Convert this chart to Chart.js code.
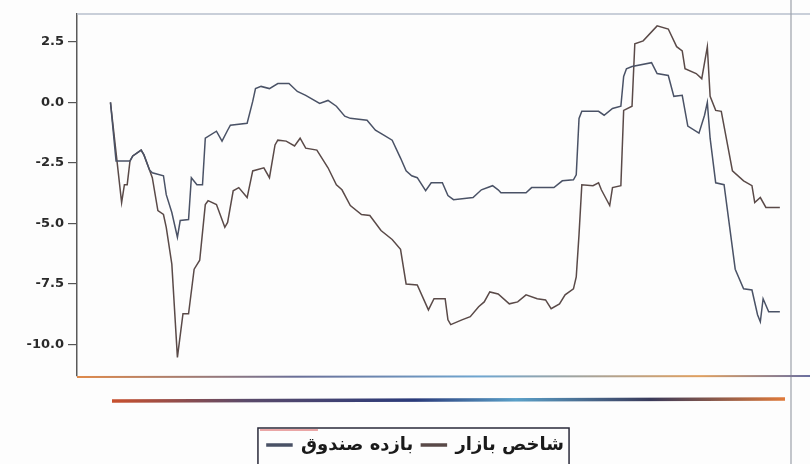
<!DOCTYPE html>
<html>
<head>
<meta charset="utf-8">
<script src="https://cdn.jsdelivr.net/npm/chart.js@4.4.1/dist/chart.umd.min.js"></script>
<style>
html,body{margin:0;padding:0;background:#fdfdfd;}
#wrap{width:810px;height:464px;position:relative;}
</style>
</head>
<body>
<div id="wrap"><canvas id="chart"></canvas></div>
<script>
// series labels (legend order, left to right)
const SERIES_NAMES=["بازده صندوق","شاخص بازار"];
const Y_TICKS=[-10,-7.5,-5,-2.5,0,2.5];

// fund return (%), by trading day
const fundDays=[0,2,7,8,11,12,14,15,19,20,22,24,25,28,29,31,33,34,38,40,42,43,49,51,52,54,57,60,64,67,70,75,78,81,84,86,92,95,98,101,104,106,108,110,113,115,119,121,123,130,133,137,139,140,149,151,159,162,166,167,168,169,175,177,180,183,184,185,187,194,196,200,202,205,207,211,213,214,215,217,220,224,227,230,232,233,234,236,240];
const fundVals=[0,-2.42,-2.42,-2.21,-1.97,-2.17,-2.79,-2.91,-3.03,-3.81,-4.55,-5.57,-4.88,-4.84,-3.11,-3.40,-3.40,-1.48,-1.19,-1.60,-1.15,-0.94,-0.86,0.04,0.57,0.66,0.57,0.78,0.78,0.45,0.29,-0.04,0.08,-0.16,-0.57,-0.66,-0.74,-1.15,-1.35,-1.56,-2.30,-2.83,-3.03,-3.11,-3.65,-3.32,-3.32,-3.85,-4.02,-3.93,-3.61,-3.44,-3.61,-3.73,-3.73,-3.52,-3.52,-3.24,-3.20,-2.99,-0.66,-0.37,-0.37,-0.53,-0.25,-0.16,1.07,1.39,1.48,1.64,1.19,1.11,0.25,0.29,-0.98,-1.27,-0.53,0,-1.48,-3.32,-3.40,-6.89,-7.70,-7.75,-8.77,-9.06,-8.11,-8.65,-8.65];

// market index (%), by trading day
const marketDays=[0,4,5,6,7,8,11,12,14,15,17,19,20,22,24,26,28,30,32,34,35,38,41,42,44,46,49,51,55,57,59,60,63,66,68,70,74,78,81,83,86,90,93,97,101,104,106,110,114,116,120,121,122,126,129,132,134,136,139,143,146,149,153,156,158,161,163,166,167,168,169,173,175,176,179,180,183,184,187,188,191,196,200,203,205,206,210,212,214,215,217,219,223,227,230,231,233,235,240];
const marketVals=[0,-4.14,-3.40,-3.40,-2.42,-2.21,-1.97,-2.17,-2.79,-3.11,-4.47,-4.63,-5.16,-6.68,-10.53,-8.73,-8.73,-6.89,-6.52,-4.22,-4.06,-4.22,-5.16,-4.96,-3.65,-3.52,-3.93,-2.83,-2.70,-3.11,-1.76,-1.56,-1.60,-1.80,-1.48,-1.89,-1.97,-2.70,-3.40,-3.61,-4.26,-4.63,-4.67,-5.29,-5.66,-6.07,-7.50,-7.54,-8.57,-8.11,-8.11,-8.98,-9.18,-8.98,-8.85,-8.44,-8.24,-7.83,-7.91,-8.32,-8.24,-7.95,-8.11,-8.16,-8.52,-8.32,-7.95,-7.70,-7.21,-5.45,-3.40,-3.44,-3.32,-3.61,-4.26,-3.52,-3.44,-0.33,-0.16,2.42,2.54,3.16,3.03,2.30,2.13,1.39,1.19,0.98,2.30,0.25,-0.33,-0.37,-2.83,-3.24,-3.44,-4.14,-3.93,-4.34,-4.34];

const toXY=(xs,ys)=>xs.map((x,i)=>({x,y:ys[i]}));

const frame={
  id:"frame",
  afterLayout(chart){
    // legend sits a little right of centre
    chart.legend.left+=20;chart.legend.right+=20;
  },
  afterDraw(chart){
    const {ctx,chartArea:a,width,height}=chart;
    ctx.save();
    // top border
    ctx.strokeStyle="#b7bfcc";ctx.lineWidth=1.5;
    ctx.beginPath();ctx.moveTo(a.left,a.top);ctx.lineTo(width,a.top);ctx.stroke();
    // right border
    ctx.strokeStyle="#9ca1aa";ctx.lineWidth=1.2;
    ctx.beginPath();ctx.moveTo(a.right,0);ctx.lineTo(a.right,height);ctx.stroke();
    // bottom axis
    let g=ctx.createLinearGradient(a.left,0,width,0);
    g.addColorStop(0,"#e08a4a");g.addColorStop(0.3,"#6a6f98");g.addColorStop(0.55,"#6fa6d0");g.addColorStop(0.85,"#e0a060");g.addColorStop(1,"#6a6fa0");
    ctx.strokeStyle=g;ctx.lineWidth=2.2;
    ctx.beginPath();ctx.moveTo(a.left,a.bottom+1);ctx.lineTo(width,a.bottom);ctx.stroke();
    // underline band
    g=ctx.createLinearGradient(a.left+35,0,a.right-6,0);
    g.addColorStop(0,"#c8502e");g.addColorStop(0.2,"#5a4a6a");g.addColorStop(0.45,"#2a3a7a");g.addColorStop(0.6,"#5aa0c8");g.addColorStop(0.8,"#3a3a5a");g.addColorStop(1,"#e07a3a");
    ctx.strokeStyle=g;ctx.lineWidth=3.5;
    ctx.beginPath();ctx.moveTo(a.left+35,a.bottom+25);ctx.lineTo(a.right-6,a.bottom+23);ctx.stroke();
    // legend frame
    const hb=chart.legend.legendHitBoxes;
    if(hb&&hb.length){
      const l=Math.min(...hb.map(b=>b.left))-9,r=Math.max(...hb.map(b=>b.left+b.width))+5;
      const t=hb[0].top-8;
      ctx.strokeStyle="#2a2a3a";ctx.lineWidth=1.5;
      ctx.strokeRect(l,t,r-l,height-t+4);
      ctx.strokeStyle="#d85050";ctx.lineWidth=1;
      ctx.beginPath();ctx.moveTo(l+2,t+2);ctx.lineTo(l+60,t+2);ctx.stroke();
    }
    ctx.restore();
  }
};

new Chart(document.getElementById("chart"),{
  type:"line",
  data:{datasets:[
    {label:SERIES_NAMES[0],data:toXY(fundDays,fundVals),borderColor:"#4a5266",backgroundColor:"#4a5266",borderWidth:1.5,pointRadius:0,tension:0},
    {label:SERIES_NAMES[1],data:toXY(marketDays,marketVals),borderColor:"#5a4a48",backgroundColor:"#5a4a48",borderWidth:1.5,pointRadius:0,tension:0}
  ]},
  options:{
    responsive:true,maintainAspectRatio:false,animation:false,
    layout:{padding:{top:14,right:19,bottom:0,left:0}},
    scales:{
      x:{type:"linear",min:-12,max:244,grid:{display:false},border:{display:false},ticks:{display:false},
        afterFit(s){s.height=52;}},
      y:{min:-11.3,max:3.65,
        afterBuildTicks(s){s.ticks=Y_TICKS.map(v=>({value:v}));},
        afterFit(s){s.width=77;},
        grid:{drawOnChartArea:false,tickLength:9,color:"#555",lineWidth:1.2},
        border:{display:true,color:"#5a5a5a",width:1.5},
        ticks:{color:"#2a2a2a",padding:4,font:{family:"'DejaVu Sans'",size:13,weight:"bold"},callback:v=>Number(v).toFixed(1)}}
    },
    plugins:{
      legend:{display:true,position:"bottom",
        labels:{color:"#1a1a1a",boxWidth:25,boxHeight:2,padding:8,font:{family:"'DejaVu Sans'",size:18,weight:"bold"}}},
      tooltip:{enabled:false}
    }
  },
  plugins:[frame]
});
</script>
</body>
</html>
